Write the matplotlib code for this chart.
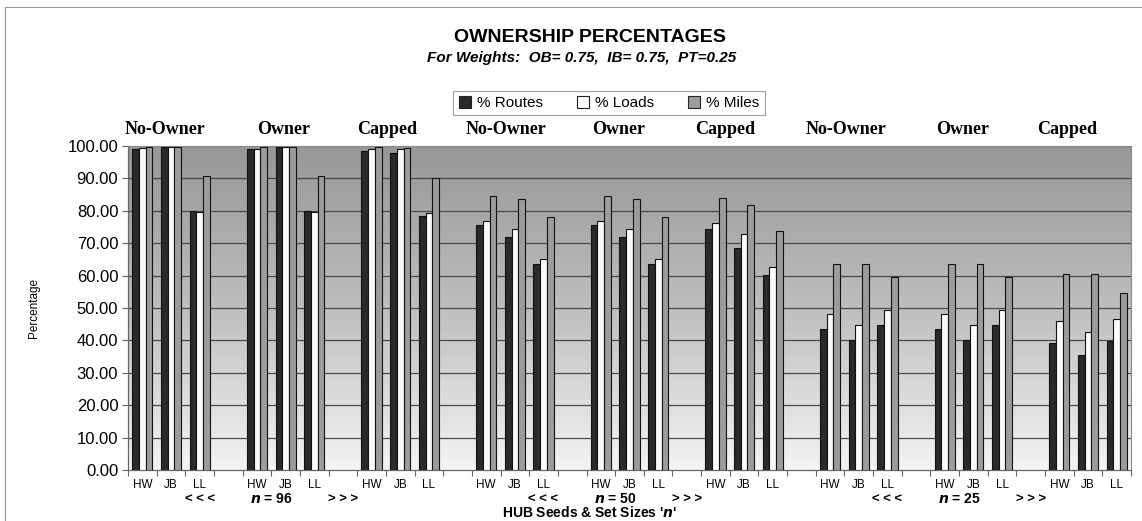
import numpy as np
import matplotlib
matplotlib.use("Agg")
import matplotlib.pyplot as plt
from matplotlib.patches import Rectangle, Patch
from matplotlib.transforms import blended_transform_factory

# dados
seeds = ["HW", "JB", "LL"]
methods = ["No-Owner", "Owner", "Capped"]
set_sizes = [96, 50, 25]

routes = [99.0, 99.6, 79.8,   99.0, 99.6, 79.8,   98.5, 97.9, 78.3,
          75.7, 71.9, 63.5,   75.7, 71.9, 63.5,   74.4, 68.5, 60.1,
          43.6, 40.0, 44.9,   43.6, 40.0, 44.9,   39.3, 35.4, 39.9]
loads = [99.3, 99.7, 79.5,   99.2, 99.7, 79.5,   99.0, 99.0, 79.3,
         77.0, 74.4, 65.2,   77.0, 74.4, 65.2,   76.2, 72.8, 62.8,
         48.1, 44.9, 49.3,   48.1, 44.9, 49.3,   45.9, 42.6, 46.5]
miles = [99.8, 99.8, 90.7,   99.8, 99.8, 90.7,   99.8, 99.5, 90.0,
         84.5, 83.5, 78.1,   84.5, 83.5, 78.1,   83.8, 81.7, 73.9,
         63.5, 63.5, 59.6,   63.5, 63.5, 59.6,   60.4, 60.6, 54.5]

series_names = ["% Routes", "% Loads", "% Miles"]
series_colors = ["#2a2a2a", "#fafafa", "#9c9c9c"]

SANS = ["Liberation Sans", "DejaVu Sans"]
SERIF = ["Liberation Serif", "DejaVu Serif"]

fig = plt.figure(figsize=(11.42, 5.21), dpi=100)
ax = fig.add_axes([128 / 1142, 51 / 521, (1131 - 128) / 1142, (470 - 146) / 521])

n_groups = len(methods) * len(set_sizes)
slots = []
for g in range(n_groups):
    for s in range(len(seeds)):
        slots.append(g * 4 + s)
slots = np.array(slots, dtype=float)

# fundo em degrade
grad = np.linspace(0, 1, 256).reshape(-1, 1)
ax.imshow(grad, cmap=matplotlib.colors.LinearSegmentedColormap.from_list(
    "bg", ["#979797", "#bebebe", "#f4f4f4"]),
    extent=[-0.5, 34.5, 0, 100], aspect="auto", origin="upper", zorder=0)

for yv in range(10, 100, 10):
    ax.axhline(yv, color="#4a4a4a", lw=0.9, zorder=1)

w = 0.235
for i, (vals, col) in enumerate(zip([routes, loads, miles], series_colors)):
    ax.bar(slots + (i - 1) * w, vals, width=w, color=col, edgecolor="#111111",
           linewidth=0.8, zorder=3)

ax.set_xlim(-0.5, 34.5)
ax.set_ylim(0, 100)
ax.set_yticks(range(0, 101, 10))
ax.set_yticklabels([f"{v:.2f}" for v in range(0, 101, 10)], fontsize=12,
                   family=SANS)
ax.tick_params(axis="y", length=4, width=0.8, color="#666666", pad=3)

ax.set_xticks(np.arange(-0.5, 35, 1.0))
ax.set_xticklabels([])
ax.tick_params(axis="x", length=4, width=0.8, color="#666666")

for sp in ["top", "right"]:
    ax.spines[sp].set_color("#888888")
    ax.spines[sp].set_linewidth(0.8)
for sp in ["left", "bottom"]:
    ax.spines[sp].set_color("#666666")
    ax.spines[sp].set_linewidth(0.9)

trans = blended_transform_factory(ax.transData, ax.transAxes)
for x, lab in zip(slots, seeds * n_groups):
    ax.text(x, -0.045, lab, transform=trans, ha="center", va="center",
            fontsize=8.5, family=SANS)

for k, n in enumerate(set_sizes):
    base = k * 12
    ax.text(base + 2, -0.09, "< < <", transform=trans, ha="center",
            va="center", fontsize=9.5, fontweight="bold", family=SANS)
    ax.text(base + 4.5, -0.09, rf"$\mathbfit{{n}}$ = {n}", transform=trans,
            ha="center", va="center", fontsize=10, fontweight="bold",
            family=SANS)
    ax.text(base + 7, -0.09, "> > >", transform=trans, ha="center",
            va="center", fontsize=9.5, fontweight="bold", family=SANS)

ax.text(0.46, -0.13, r"HUB Seeds & Set Sizes '$\mathbfit{n}$'",
        transform=ax.transAxes, ha="center", va="center", fontsize=10,
        fontweight="bold", family=SANS)

# rotulos dos metodos acima do grafico
lab_x = [165, 284, 387, 506, 619, 725, 846, 963, 1067]
for x, lab in zip(lab_x, methods * len(set_sizes)):
    fig.text(x / 1142, 1 - 130 / 521, lab, ha="center", va="center",
             fontsize=13, fontweight="bold", family=SERIF)

ax.set_ylabel("Percentage", fontsize=8.5, family=SANS, labelpad=20)

fig.text(590 / 1142, 1 - 38 / 521, "OWNERSHIP PERCENTAGES", ha="center",
         va="center", fontsize=14, fontweight="bold", family=SANS)
fig.text(582 / 1142, 1 - 58 / 521,
         "For Weights:  OB= 0.75,  IB= 0.75,  PT=0.25", ha="center",
         va="center", fontsize=11, fontweight="bold", style="italic",
         family=SANS)

handles = [Patch(facecolor=c, edgecolor="#222222", linewidth=0.8)
           for c in series_colors]
leg = fig.legend(handles, series_names, loc="center",
                 bbox_to_anchor=(609 / 1142, 1 - 103 / 521), ncol=3,
                 frameon=True, fancybox=False, prop={"family": SANS, "size": 11},
                 handlelength=0.8, handleheight=0.8, handletextpad=0.4,
                 columnspacing=2.2, borderpad=0.35, borderaxespad=0)
leg.get_frame().set_edgecolor("#888888")
leg.get_frame().set_linewidth(0.8)

fig.add_artist(Rectangle((5 / 1142, -0.02), 1.0, 1 - 7 / 521 + 0.02,
                         transform=fig.transFigure, fill=False,
                         edgecolor="#999999", linewidth=0.8))

fig.savefig("out.png", dpi=100)
